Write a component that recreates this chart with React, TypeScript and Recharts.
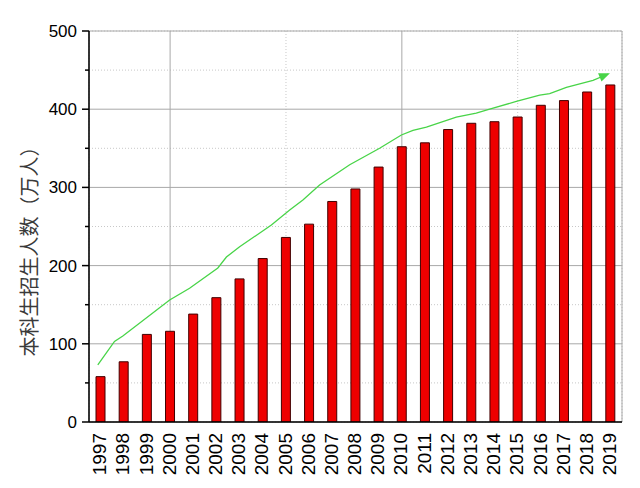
import {
  ComposedChart,
  Bar,
  Line,
  XAxis,
  YAxis,
  CartesianGrid,
} from 'recharts'

const years = [
  1997, 1998, 1999, 2000, 2001, 2002, 2003, 2004, 2005, 2006, 2007, 2008,
  2009, 2010, 2011, 2012, 2013, 2014, 2015, 2016, 2017, 2018, 2019,
]
const enrolment = [
  58, 77, 112, 116, 138, 159, 183, 209, 236, 253, 282, 298, 326, 352, 357,
  374, 382, 384, 390, 405, 411, 422, 431,
]

// hand-drawn trend arrow (fractional year, value)
const trendX = [
  1996.88, 1997.6, 1997.96, 1999.98, 2000.84, 2002.06, 2002.43, 2003.0,
  2004.37, 2005.16, 2005.73, 2006.45, 2007.75, 2009.04, 2009.98, 2010.48,
  2011.06, 2012.35, 2013.21, 2013.79, 2014.94, 2015.95, 2016.38, 2017.1,
  2018.25, 2018.9,
]
const trendY = [
  73, 103, 110, 156, 171, 197, 211, 224, 252, 271, 284, 303, 329, 350, 367,
  373, 377, 390, 395, 400, 410, 418, 420, 428, 437, 445,
]

const yTicks = [0, 50, 100, 150, 200, 250, 300, 350, 400, 450, 500]
const yMajor = [100, 200, 300, 400]
const yMinor = [50, 150, 250, 350, 450]
const xMajor = [2000, 2010]
const xMinor = [2005, 2015]

const barData = years.map((y, i) => ({ x: y, v: enrolment[i] }))
const trendData = trendX.map((x, i) => ({ x, t: trendY[i] }))

const X_DOMAIN: [number, number] = [1996.5, 2019.5]
const Y_DOMAIN: [number, number] = [0, 500]
const GREEN = '#48d448'
const FONT = '"Liberation Sans", Arial, sans-serif'

const YTick = (props: any) => {
  const { x, y, payload } = props
  const major = payload.value % 100 === 0
  return (
    <g>
      <line x1={x - (major ? 7 : 4)} x2={x} y1={y} y2={y} stroke="#000" strokeWidth={1.5} />
      {major && (
        <text x={x - 12} y={y} dy="0.35em" textAnchor="end" fontSize={17} fontFamily={FONT} fill="#000">
          {payload.value}
        </text>
      )}
    </g>
  )
}

const XTick = (props: any) => {
  const { x, y, payload } = props
  const ty = y + 11
  return (
    <text
      x={x - 1}
      y={ty}
      dy="0.35em"
      textAnchor="end"
      fontSize={19}
      fontFamily={FONT}
      fill="#000"
      transform={`rotate(-90, ${x - 1}, ${ty})`}
    >
      {payload.value}
    </text>
  )
}

let prevPt = { x: 0, y: 0 }
const TrendDot = (props: any) => {
  const { cx, cy, index } = props
  if (index === trendData.length - 2) prevPt = { x: cx, y: cy }
  if (index !== trendData.length - 1) return <g key={`d-${index}`} />
  const ang = (Math.atan2(cy - prevPt.y, cx - prevPt.x) * 180) / Math.PI
  return (
    <polygon
      key={`d-${index}`}
      points="2,0 -9,-4.5 -9,4.5"
      transform={`translate(${cx},${cy}) rotate(${ang})`}
      fill={GREEN}
    />
  )
}

const YLabel = (props: any) => {
  const { viewBox } = props
  const cx = viewBox.x + 30
  const cy = viewBox.y + viewBox.height / 2 + 20
  return (
    <text
      x={cx}
      y={cy}
      textAnchor="middle"
      dy="0.35em"
      fontSize={20}
      fontFamily='"Noto Sans CJK SC", sans-serif'
      fill="#3a3a3a"
      transform={`rotate(-90, ${cx}, ${cy})`}
    >
      本科生招生人数（万人）
    </text>
  )
}

export default function App() {
  return (
    <div style={{ position: 'absolute', left: 0, top: 0, background: '#fff' }}>
      <ComposedChart
        width={640}
        height={488}
        data={barData}
        margin={{ top: 31, right: 18, bottom: 0, left: 0 }}
      >
        <XAxis xAxisId="xmaj" type="number" dataKey="x" domain={X_DOMAIN} ticks={xMajor} hide allowDataOverflow />
        <XAxis xAxisId="xmin" type="number" dataKey="x" domain={X_DOMAIN} ticks={xMinor} hide allowDataOverflow />
        <YAxis yAxisId="ymaj" type="number" domain={Y_DOMAIN} ticks={yMajor} hide allowDataOverflow />
        <YAxis yAxisId="ymin" type="number" domain={Y_DOMAIN} ticks={yMinor} hide allowDataOverflow />
        <CartesianGrid xAxisId="xmin" yAxisId="ymin" stroke="#c8c8c8" strokeDasharray="1 2" />
        <CartesianGrid xAxisId="xmaj" yAxisId="ymaj" stroke="#a8a8a8" />

        <XAxis
          type="number"
          dataKey="x"
          domain={X_DOMAIN}
          ticks={years}
          interval={0}
          height={66}
          tickSize={0}
          tickMargin={0}
          tickLine={false}
          tick={<XTick />}
          axisLine={{ stroke: '#000', strokeWidth: 1.5 }}
          allowDataOverflow
        />
        <XAxis
          xAxisId="top"
          orientation="top"
          type="number"
          dataKey="x"
          domain={X_DOMAIN}
          height={0}
          tick={false}
          tickLine={false}
          axisLine={{ stroke: '#000', strokeWidth: 1.5 }}
          allowDataOverflow
        />
        <YAxis
          type="number"
          domain={Y_DOMAIN}
          ticks={yTicks}
          interval={0}
          width={89}
          tickSize={0}
          tickMargin={0}
          tickLine={false}
          tick={<YTick />}
          axisLine={{ stroke: '#000', strokeWidth: 1.5 }}
          label={<YLabel />}
          allowDataOverflow
        />
        <YAxis
          yAxisId="right"
          orientation="right"
          type="number"
          domain={Y_DOMAIN}
          width={0}
          tick={false}
          tickLine={false}
          axisLine={{ stroke: '#000', strokeWidth: 1.5 }}
          allowDataOverflow
        />

        <Bar dataKey="v" barSize={9} fill="#ee0000" stroke="#400000" strokeWidth={1} isAnimationActive={false} />
        <Line
          xAxisId="top"
          data={trendData}
          dataKey="t"
          type="linear"
          stroke={GREEN}
          strokeWidth={1.3}
          dot={TrendDot}
          activeDot={false}
          isAnimationActive={false}
        />
      </ComposedChart>
    </div>
  )
}
